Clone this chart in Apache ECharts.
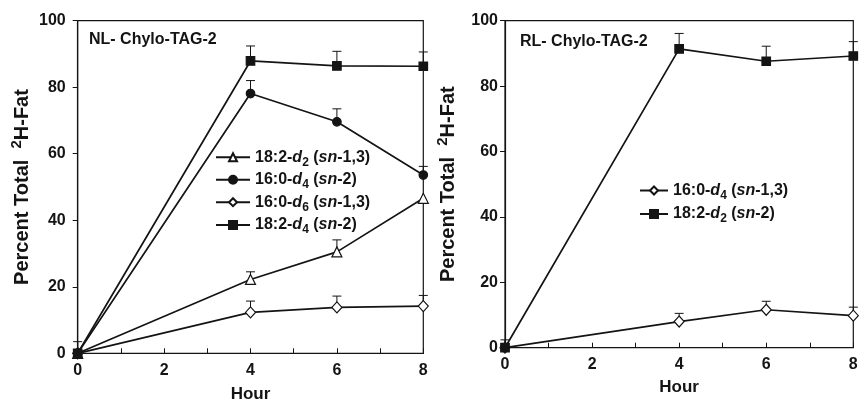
<!DOCTYPE html>
<html>
<head>
<meta charset="utf-8">
<script src="https://cdn.jsdelivr.net/npm/echarts@6/dist/echarts.min.js"></script>
<style>
html,body{margin:0;padding:0;background:#fff;}
#chart{width:862px;height:404px;}
</style>
</head>
<body>
<div id="chart"></div>
<script>
// ---------- data ----------
var hours = [0, 4, 6, 8];
var xTicks = [0, 2, 4, 6, 8];
var yTicks = [0, 20, 40, 60, 80, 100];

// Left panel: NL- Chylo-TAG-2
var nlTitle = 'NL- Chylo-TAG-2';
var nlNames = ['18:2-d2 (sn-1,3)', '16:0-d4 (sn-2)', '16:0-d6 (sn-1,3)', '18:2-d4 (sn-2)'];
var nl_182d2_mean = [0, 22.2, 30.5, 46.6];
var nl_182d2_sd   = [0, 2.3, 3.6, 0];
var nl_160d4_mean = [0, 78.1, 69.6, 53.6];
var nl_160d4_sd   = [0, 3.9, 3.9, 2.6];
var nl_160d6_mean = [0, 12.3, 13.8, 14.2];
var nl_160d6_sd   = [0, 3.4, 3.4, 3.2];
var nl_182d4_mean = [0, 87.9, 86.4, 86.3];
var nl_182d4_sd   = [3.5, 4.5, 4.4, 4.3];

// Right panel: RL- Chylo-TAG-2
var rlTitle = 'RL- Chylo-TAG-2';
var rlNames = ['16:0-d4 (sn-1,3)', '18:2-d2 (sn-2)'];
var rl_160d4_mean = [0, 8.0, 11.6, 9.8];
var rl_160d4_sd   = [0, 2.5, 2.6, 2.6];
var rl_182d2_mean = [0, 91.4, 87.6, 89.2];
var rl_182d2_sd   = [2.4, 4.7, 4.6, 4.4];

// ---------- helpers ----------
var FONT = "'Liberation Sans', Arial, Helvetica, sans-serif";
var INK = '#141414';

function pairs(m) { return hours.map(function (h, i) { return [h, m[i]]; }); }
function errData(m, s) { return hours.map(function (h, i) { return [h, m[i], s[i]]; }); }

function renderErr(params, api) {
  var x = api.value(0), y = api.value(1), sd = api.value(2);
  if (!(sd > 0)) return { type: 'group', children: [] };
  var p0 = api.coord([x, y]), p1 = api.coord([x, y + sd]);
  var w = 4.5;
  return {
    type: 'group',
    children: [
      { type: 'line', shape: { x1: p0[0], y1: p0[1], x2: p1[0], y2: p1[1] }, style: { stroke: INK, lineWidth: 1 } },
      { type: 'line', shape: { x1: p1[0] - w, y1: p1[1], x2: p1[0] + w, y2: p1[1] }, style: { stroke: INK, lineWidth: 1 } }
    ]
  };
}

function lineSeries(name, mean, symbol, size, filled, gi) {
  return {
    type: 'line', name: name, xAxisIndex: gi, yAxisIndex: gi,
    data: pairs(mean), symbol: symbol, symbolSize: size, showSymbol: true,
    lineStyle: { color: INK, width: 1.7 },
    itemStyle: { color: filled ? INK : '#ffffff', borderColor: INK, borderWidth: 1.2 },
    z: 3, animation: false
  };
}
function errSeries(mean, sd, gi) {
  return {
    type: 'custom', xAxisIndex: gi, yAxisIndex: gi, renderItem: renderErr,
    data: errData(mean, sd), encode: { x: 0, y: 1 }, z: 2, animation: false, silent: true
  };
}

function richName(n) {
  var m = n.match(/^(\d+:\d)-d(\d) \(sn-(.+)\)$/);
  return m[1] + '-{i|d}{s|' + m[2] + '} ({i|sn}-' + m[3] + ')';
}
var legendRich = {
  i: { fontStyle: 'italic', fontWeight: 'bold', fontSize: 16, fontFamily: FONT, color: INK },
  s: { fontWeight: 'bold', fontSize: 12, fontFamily: FONT, color: INK, padding: [10, 0, 0, 0] }
};
function legendItem(name, left, centerY, w) {
  return {
    data: [name], left: left, top: centerY - 11, padding: 0, itemWidth: w, itemHeight: 10,
    selectedMode: false,
    formatter: richName,
    textStyle: { fontSize: 16, fontWeight: 'bold', fontFamily: FONT, color: INK, rich: legendRich }
  };
}

function xAxis(gi, labelMargin, nameGap) {
  return {
    type: 'value', gridIndex: gi, min: 0, max: 8, interval: 1,
    name: 'Hour', nameLocation: 'middle', nameGap: nameGap,
    nameTextStyle: { fontSize: 17, fontWeight: 'bold', fontFamily: FONT, color: INK },
    axisLine: { lineStyle: { color: INK, width: 1.2 } },
    axisTick: { inside: true, length: 5, lineStyle: { color: INK, width: 1 } },
    axisLabel: {
      margin: labelMargin, fontSize: 16, fontWeight: 'bold', fontFamily: FONT, color: INK,
      formatter: function (v) { return xTicks.indexOf(v) >= 0 ? String(v) : ''; }
    },
    splitLine: { show: false }
  };
}
function yAxis(gi, labelMargin, nameGap) {
  return {
    type: 'value', gridIndex: gi, min: 0, max: 100, interval: 20,
    name: 'Percent Total  {sup|2}H-Fat', nameLocation: 'middle', nameGap: nameGap, nameRotate: 90,
    nameTextStyle: {
      fontSize: 20, fontWeight: 'bold', fontFamily: FONT, color: INK,
      rich: { sup: { fontSize: 15, fontWeight: 'bold', fontFamily: FONT, color: INK, padding: [0, 0, 10, 0] } }
    },
    axisLine: { lineStyle: { color: INK, width: 1.2 } },
    axisTick: { inside: false, length: 5, lineStyle: { color: INK, width: 1 } },
    axisLabel: {
      margin: labelMargin, fontSize: 16, fontWeight: 'bold', fontFamily: FONT, color: INK,
      formatter: function (v) { return yTicks.indexOf(v) >= 0 ? String(v) : ''; }
    },
    splitLine: { show: false }
  };
}

var chart = echarts.init(document.getElementById('chart'), null, { renderer: 'canvas' });
chart.setOption({
  animation: false,
  backgroundColor: '#ffffff',
  title: [
    { text: nlTitle, left: 89, top: 32, padding: 0, textStyle: { fontSize: 16, fontWeight: 'bold', fontFamily: FONT, color: INK } },
    { text: rlTitle, left: 520, top: 34, padding: 0, textStyle: { fontSize: 16, fontWeight: 'bold', fontFamily: FONT, color: INK } }
  ],
  grid: [
    { left: 77.7, top: 20.7, width: 345.6, height: 332.6, show: true, borderColor: INK, borderWidth: 1.2, backgroundColor: 'transparent', containLabel: false, outerBoundsMode: 'none' },
    { left: 505, top: 20.7, width: 348.3, height: 327, show: true, borderColor: INK, borderWidth: 1.2, backgroundColor: 'transparent', containLabel: false, outerBoundsMode: 'none' }
  ],
  xAxis: [xAxis(0, 9, 33), xAxis(1, 9, 31)],
  yAxis: [yAxis(0, 12, 43), yAxis(1, 7, 44.5)],
  legend: [
    legendItem(nlNames[0], 215, 160.3, 34),
    legendItem(nlNames[1], 215, 182.7, 34),
    legendItem(nlNames[2], 215, 205.2, 34),
    legendItem(nlNames[3], 215, 228.0, 34),
    legendItem(rlNames[0], 639, 193.5, 28),
    legendItem(rlNames[1], 639, 217.0, 28)
  ],
  series: [
    errSeries(nl_182d2_mean, nl_182d2_sd, 0),
    errSeries(nl_160d4_mean, nl_160d4_sd, 0),
    errSeries(nl_160d6_mean, nl_160d6_sd, 0),
    errSeries(nl_182d4_mean, nl_182d4_sd, 0),
    lineSeries(nlNames[0], nl_182d2_mean, 'triangle', 10, false, 0),
    lineSeries(nlNames[1], nl_160d4_mean, 'circle', 8.5, true, 0),
    lineSeries(nlNames[2], nl_160d6_mean, 'diamond', [10, 11], false, 0),
    lineSeries(nlNames[3], nl_182d4_mean, 'rect', 8.5, true, 0),
    errSeries(rl_160d4_mean, rl_160d4_sd, 1),
    errSeries(rl_182d2_mean, rl_182d2_sd, 1),
    lineSeries(rlNames[0], rl_160d4_mean, 'diamond', [10, 11], false, 1),
    lineSeries(rlNames[1], rl_182d2_mean, 'rect', 8.5, true, 1)
  ]
});
</script>
</body>
</html>
